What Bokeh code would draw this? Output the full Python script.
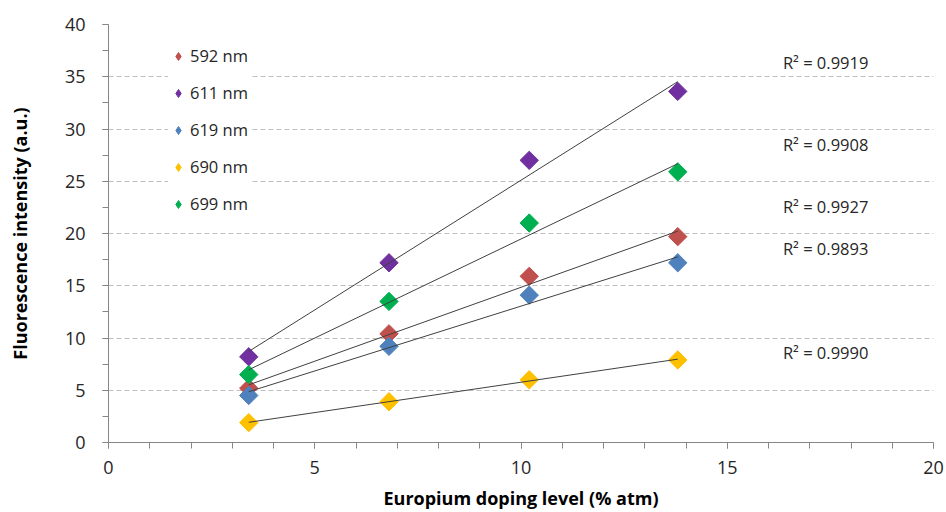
import numpy as np
from bokeh.plotting import figure
from bokeh.models import (SingleIntervalTicker, Legend, LegendItem, Label)
from bokeh.embed import file_html
from bokeh.resources import INLINE

# Europium doping level (% atm)
doping = [3.4, 6.8, 10.2, 13.8]

# Fluorescence intensity (a.u.) per emission wavelength
i_592 = [5.2, 10.4, 15.9, 19.7]
i_611 = [8.2, 17.2, 27.0, 33.6]
i_619 = [4.5, 9.2, 14.1, 17.2]
i_690 = [1.9, 3.9, 6.0, 7.9]
i_699 = [6.5, 13.5, 21.0, 25.9]

series_names = ["592 nm", "611 nm", "619 nm", "690 nm", "699 nm"]
series_values = [i_592, i_611, i_619, i_690, i_699]
series_colors = ["#C0504D", "#7030A0", "#4F81BD", "#FFC000", "#00B050"]

# Coefficients of determination of the linear trendlines
r2_labels = ["R\u00b2 = 0.9919", "R\u00b2 = 0.9908", "R\u00b2 = 0.9927",
             "R\u00b2 = 0.9893", "R\u00b2 = 0.9990"]
r2_x = [16.35, 16.35, 16.35, 16.35, 16.35]
r2_y = [36.4, 28.5, 22.6, 18.6, 8.6]

FONT = "Open Sans"
TEXT = "#262626"

p = figure(width=946, height=512, x_range=(0, 20), y_range=(0, 40),
           output_backend="svg", toolbar_location=None,
           min_border_left=108, min_border_right=13,
           min_border_top=24, min_border_bottom=70)
p.outline_line_color = None
p.background_fill_color = "white"

# axes
p.xaxis.ticker = SingleIntervalTicker(interval=5, num_minor_ticks=5)
p.yaxis.ticker = SingleIntervalTicker(interval=5, num_minor_ticks=2)
for ax in (p.xaxis, p.yaxis):
    ax.axis_line_color = "#868686"
    ax.major_tick_line_color = "#868686"
    ax.minor_tick_line_color = "#868686"
    ax.major_tick_out = 6
    ax.major_tick_in = 0
    ax.minor_tick_out = 6
    ax.minor_tick_in = 0
    ax.major_label_text_font = FONT
    ax.major_label_text_font_size = "18px"
    ax.major_label_text_color = TEXT
    ax.axis_label_text_font = FONT
    ax.axis_label_text_font_size = "18px"
    ax.axis_label_text_font_style = "bold"
    ax.axis_label_text_color = "black"
p.xaxis.axis_label = "Europium doping level (% atm)"
p.yaxis.axis_label = "Fluorescence intensity (a.u.)"
p.xaxis.major_label_standoff = 12
p.yaxis.major_label_standoff = 17
p.xaxis.axis_label_standoff = 9
p.yaxis.axis_label_standoff = 30

# grid
p.xgrid.grid_line_color = None
p.ygrid.grid_line_color = "#BFBFBF"
p.ygrid.grid_line_dash = "5 3"
p.ygrid.grid_line_width = 1

legend_items = []
for name, vals, col in zip(series_names, series_values, series_colors):
    p.scatter(doping, vals, marker="square", size=13, angle=np.pi / 4,
              fill_color=col, line_color=col)
    lr = p.scatter([doping[0]], [vals[0]], marker="diamond", size=10,
                   fill_color=col, line_color=col, visible=False)
    legend_items.append(LegendItem(label=name, renderers=[lr]))

# linear trend lines over the measured range
for vals in series_values:
    xs = np.array(doping)
    ys = np.array(vals)
    slope, intercept = np.polyfit(xs, ys, 1)
    xf = [xs.min(), xs.max()]
    p.line(xf, [slope * v + intercept for v in xf], line_color="#404040", line_width=1)

legend = Legend(items=legend_items, location=(60, 227), orientation="vertical",
                glyph_width=20, glyph_height=20, label_height=20, spacing=14,
                padding=20, margin=0, label_standoff=2, label_width=62,
                label_text_font=FONT, label_text_font_size="16.5px",
                label_text_color=TEXT, border_line_color=None,
                background_fill_color="white", background_fill_alpha=1.0)
p.add_layout(legend, "center")

for txt, x, y in zip(r2_labels, r2_x, r2_y):
    p.add_layout(Label(x=x, y=y, text=txt, text_font=FONT, text_font_size="16.5px",
                       text_color=TEXT, text_baseline="middle", text_align="left"))

open("out.html", "w").write(file_html(p, INLINE))
